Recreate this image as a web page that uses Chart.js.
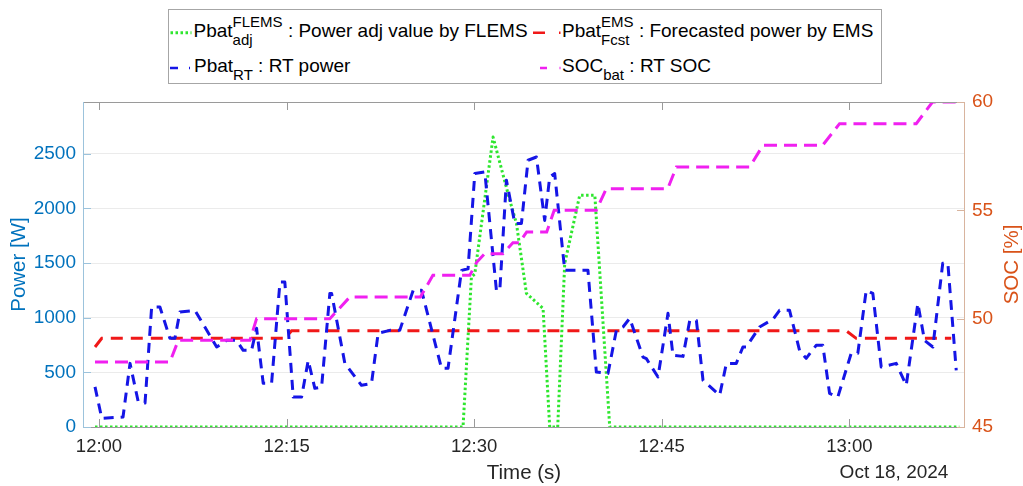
<!DOCTYPE html>
<html>
<head>
<meta charset="utf-8">
<style>
  body { margin: 0; background: #fff; }
  #wrap { position: relative; width: 1023px; height: 486px; overflow: hidden; }
  #myChart { position: absolute; left: 0; top: 0; }
  #legend {
    position: absolute; left: 168px; top: 9px; width: 714px; height: 75px;
    box-sizing: border-box; border: 1px solid #a6a6a6; background: #fff;
  }
  #legend svg { position: absolute; left: 0; top: 0; }
  .entry { position: absolute; white-space: nowrap; font: 19px/20px 'Liberation Sans', Arial, sans-serif; color: #000; }
  .ss { display: inline-block; position: relative; font-size: 15px; line-height: 15px; }
  .ss .sup { position: relative; top: -10px; }
  .ss .sub { position: absolute; left: 0; top: 8px; }
  .sb { position: relative; top: 8px; font-size: 15px; }
</style>
</head>
<body>
<div id="wrap">
  <canvas id="myChart" width="1023" height="486"></canvas>
  <div id="legend">
    <svg width="712" height="73">
      <line x1="1.5" y1="22.7" x2="22.5" y2="22.7" stroke="#2ee62e" stroke-width="3" stroke-dasharray="2.5 2.5"/>
      <line x1="1" y1="58" x2="21" y2="58" stroke="#1515e6" stroke-width="2.5" stroke-dasharray="8 11"/>
      <line x1="364" y1="22.7" x2="391.5" y2="22.7" stroke="#f01818" stroke-width="2.5" stroke-dasharray="12 14"/>
      <line x1="371" y1="58" x2="391.5" y2="58" stroke="#f020f0" stroke-width="2.5" stroke-dasharray="7 12.5"/>
    </svg>
    <div class="entry" style="left:24.5px; top:11.4px">Pbat<span class="ss"><span class="sup">FLEMS</span><span class="sub">adj</span></span> : Power adj value by FLEMS</div>
    <div class="entry" style="left:25px; top:46.4px">Pbat<span class="sb">RT</span> : RT power</div>
    <div class="entry" style="left:393px; top:11.4px">Pbat<span class="ss"><span class="sup">EMS</span><span class="sub">Fcst</span></span> : Forecasted power by EMS</div>
    <div class="entry" style="left:393px; top:46.4px">SOC<span class="sb">bat</span> : RT SOC</div>
  </div>
</div>

<script src="https://cdn.jsdelivr.net/npm/chart.js"></script>
<script>
    // time in minutes after 12:00
    const xTickVals = [0, 15, 30, 45, 60];
    const xTickLabels = ['12:00', '12:15', '12:30', '12:45', '13:00'];
    const powerTicks = [0, 500, 1000, 1500, 2000, 2500];
    const socTicks = [45, 50, 55, 60];

    // Pbat RT (blue)
    const blueT = [-0.32, 0.22, 1.92, 2.48, 3.14, 3.68, 4.21, 4.87, 5.67, 6.07, 6.47, 7.67, 9.41, 10.21, 11.0, 11.53,
        12.2, 12.6, 13.13, 13.8, 14.47, 14.86, 15.53, 16.2, 16.73, 17.26, 17.8, 18.46, 18.6, 19.66, 20.99, 21.79,
        22.32, 23.26, 24.05, 25.12, 25.79, 27.39, 27.91, 28.99, 29.51, 30.05, 30.85, 31.78, 32.05, 32.58, 33.25,
        33.78, 34.31, 34.98, 35.64, 36.04, 36.44, 37.24, 39.1, 39.77, 40.7, 41.37, 41.9, 42.44, 43.5, 43.77, 44.7,
        45.5, 45.9, 46.7, 47.24, 47.77, 48.3, 49.63, 50.17, 50.96, 51.49, 51.76, 52.82, 53.89, 54.42, 55.22, 56.02,
        56.55, 57.35, 57.88, 58.42, 59.08, 60.15, 60.68, 61.35, 61.88, 62.55, 63.75, 64.55, 65.48, 66.01, 66.68,
        67.47, 67.88, 68.55];
    const blueP = [367, 80, 91, 582, 229, 220, 1098, 1098, 811, 811, 1052, 1067, 732, 793, 793, 701,
        701, 903, 400, 400, 1326, 1326, 274, 274, 610, 354, 366, 1222, 1222, 582, 381, 397,
        857, 884, 884, 1250, 1250, 537, 537, 1433, 1447, 2318, 2333, 1250, 1250, 2257, 1862,
        1862, 2440, 2470, 1890, 2287, 2318, 1433, 1433, 503, 490, 884, 915, 994, 640, 625, 457,
        1040, 655, 646, 975, 975, 427, 290, 582, 582, 732, 732, 915, 985, 1067, 1067, 701,
        628, 747, 747, 308, 274, 674, 674, 1250, 1222, 549, 582, 381, 1131, 793, 732,
        1497, 1497, 518];

    // Pbat adj FLEMS (green)
    const greenT = [-0.32, 29.11, 29.78, 30.05, 31.51, 32.85, 33.38, 34.18, 35.51, 36.04, 36.68, 37.24, 38.44, 39.65, 40.84, 68.8];
    const greenP = [0, 0, 1372, 1400, 2652, 2073, 1862, 1222, 1085, 0, 0, 1494, 2119, 2119, 0, 0];

    // Pbat Fcst EMS (red)
    const redT = [-0.32, 0.22, 14.86, 15.4, 59.75, 60.55, 68.15];
    const redP = [732, 811, 811, 880, 880, 811, 811];

    // SOC bat (magenta, right axis)
    const socT = [-0.32, 5.67, 6.34, 12.07, 12.6, 18.46, 20.06, 25.7, 26.7, 29.65, 30.2, 30.85, 32.3, 33.1, 33.6,
        34.2, 35.8, 36.4, 39.77, 40.57, 45.48, 46.17, 52.03, 53.09, 57.86, 59.22, 65.35, 66.65, 69.0];
    const socV = [48, 48, 49, 49, 50, 50, 51, 51, 52, 52, 52.6, 53, 53, 53.5, 53.5,
        54, 54, 55, 55, 56, 56, 57, 57, 58, 58, 59, 59, 60, 60];

    const FONT = "'Liberation Sans', Arial, sans-serif";
    const pts = (t, v) => t.map((x, i) => ({ x: x, y: v[i] }));

    const frame = {
        id: 'frame',
        afterDraw(chart) {
            const ctx = chart.ctx;
            const a = chart.chartArea;
            const sx = chart.scales.x, sy = chart.scales.y, sy2 = chart.scales.y2;
            ctx.save();
            ctx.lineWidth = 1;
            // box top / bottom
            ctx.strokeStyle = '#9a9a9a';
            ctx.beginPath();
            ctx.moveTo(a.left, Math.round(a.top) + 0.5); ctx.lineTo(a.right, Math.round(a.top) + 0.5);
            ctx.moveTo(a.left, Math.round(a.bottom) + 0.5); ctx.lineTo(a.right, Math.round(a.bottom) + 0.5);
            xTickVals.forEach(v => {
                const px = Math.round(sx.getPixelForValue(v)) + 0.5;
                ctx.moveTo(px, a.bottom); ctx.lineTo(px, a.bottom - 8);
                ctx.moveTo(px, a.top); ctx.lineTo(px, a.top + 8);
            });
            ctx.stroke();
            // left axis
            ctx.strokeStyle = '#9cc3dc';
            ctx.beginPath();
            ctx.moveTo(Math.round(a.left) + 0.5, a.top); ctx.lineTo(Math.round(a.left) + 0.5, a.bottom);
            powerTicks.forEach(v => {
                const py = Math.round(sy.getPixelForValue(v)) + 0.5;
                ctx.moveTo(a.left, py); ctx.lineTo(a.left + 8, py);
            });
            ctx.stroke();
            // right axis
            ctx.strokeStyle = '#d8b49e';
            ctx.beginPath();
            ctx.moveTo(Math.round(a.right) - 0.5, a.top); ctx.lineTo(Math.round(a.right) - 0.5, a.bottom);
            socTicks.forEach(v => {
                const py = Math.round(sy2.getPixelForValue(v)) + 0.5;
                ctx.moveTo(a.right, py); ctx.lineTo(a.right - 8, py);
            });
            ctx.stroke();

            // axis titles
            ctx.textAlign = 'center';
            ctx.textBaseline = 'middle';
            ctx.font = '20.5px ' + FONT;
            ctx.fillStyle = '#262626';
            ctx.fillText('Time (s)', (a.left + a.right) / 2, 473);
            ctx.font = '19px ' + FONT;
            ctx.fillText('Oct 18, 2024', 894, 473);
            ctx.font = '20.5px ' + FONT;
            ctx.save();
            ctx.translate(19, (a.top + a.bottom) / 2);
            ctx.rotate(-Math.PI / 2);
            ctx.fillStyle = '#0072BD';
            ctx.fillText('Power [W]', 0, 0);
            ctx.restore();
            ctx.save();
            ctx.translate(1012, (a.top + a.bottom) / 2);
            ctx.rotate(-Math.PI / 2);
            ctx.fillStyle = '#D95319';
            ctx.fillText('SOC [%]', 0, 0);
            ctx.restore();
            ctx.restore();
        }
    };

    const ctx = document.getElementById('myChart').getContext('2d');
    const myChart = new Chart(ctx, {
        type: 'line',
        data: {
            datasets: [{
                label: 'Pbat adj FLEMS',
                data: pts(greenT, greenP),
                borderColor: '#2ee62e',
                borderWidth: 3,
                borderDash: [2.5, 2.5],
                borderJoinStyle: 'round',
                yAxisID: 'y',
                order: 4
            }, {
                label: 'Pbat Fcst EMS',
                data: pts(redT, redP),
                borderColor: '#f01818',
                borderWidth: 3,
                borderDash: [12, 8],
                yAxisID: 'y',
                order: 3
            }, {
                label: 'Pbat RT',
                data: pts(blueT, blueP),
                borderColor: '#1515e6',
                borderWidth: 3,
                borderDash: [10, 7],
                borderJoinStyle: 'round',
                yAxisID: 'y',
                order: 2
            }, {
                label: 'SOC bat',
                data: pts(socT, socV),
                borderColor: '#f020f0',
                borderWidth: 3,
                borderDash: [13, 7],
                yAxisID: 'y2',
                order: 1
            }]
        },
        options: {
            responsive: false,
            animation: false,
            devicePixelRatio: 1,
            layout: { padding: { top: 102, left: 0, right: 0, bottom: 0 } },
            elements: { point: { radius: 0 }, line: { tension: 0, fill: false } },
            plugins: { legend: { display: false }, tooltip: { enabled: false } },
            scales: {
                x: {
                    type: 'linear',
                    min: -1.28,
                    max: 69.25,
                    afterBuildTicks: s => { s.ticks = xTickVals.map(v => ({ value: v })); },
                    ticks: {
                        callback: (v, i) => xTickLabels[i],
                        color: '#262626',
                        font: { family: FONT, size: 18.5 },
                        padding: 9,
                        maxRotation: 0,
                        autoSkip: false
                    },
                    grid: { display: false, drawTicks: false },
                    border: { display: false },
                    afterFit: s => { s.height = 59; }
                },
                y: {
                    position: 'left',
                    min: 0,
                    max: 2973,
                    afterBuildTicks: s => { s.ticks = powerTicks.map(v => ({ value: v })); },
                    ticks: { callback: v => String(v), color: '#0072BD', font: { family: FONT, size: 19 }, padding: 7 },
                    grid: { color: '#ebebeb', drawTicks: false },
                    border: { display: false },
                    afterFit: s => { s.width = 83; }
                },
                y2: {
                    position: 'right',
                    min: 45,
                    max: 60,
                    afterBuildTicks: s => { s.ticks = socTicks.map(v => ({ value: v })); },
                    ticks: { callback: v => String(v), color: '#D95319', font: { family: FONT, size: 19 }, padding: 7 },
                    grid: { display: false, drawTicks: false },
                    border: { display: false },
                    afterFit: s => { s.width = 58; }
                }
            }
        },
        plugins: [frame]
    });
</script>
</body>
</html>
